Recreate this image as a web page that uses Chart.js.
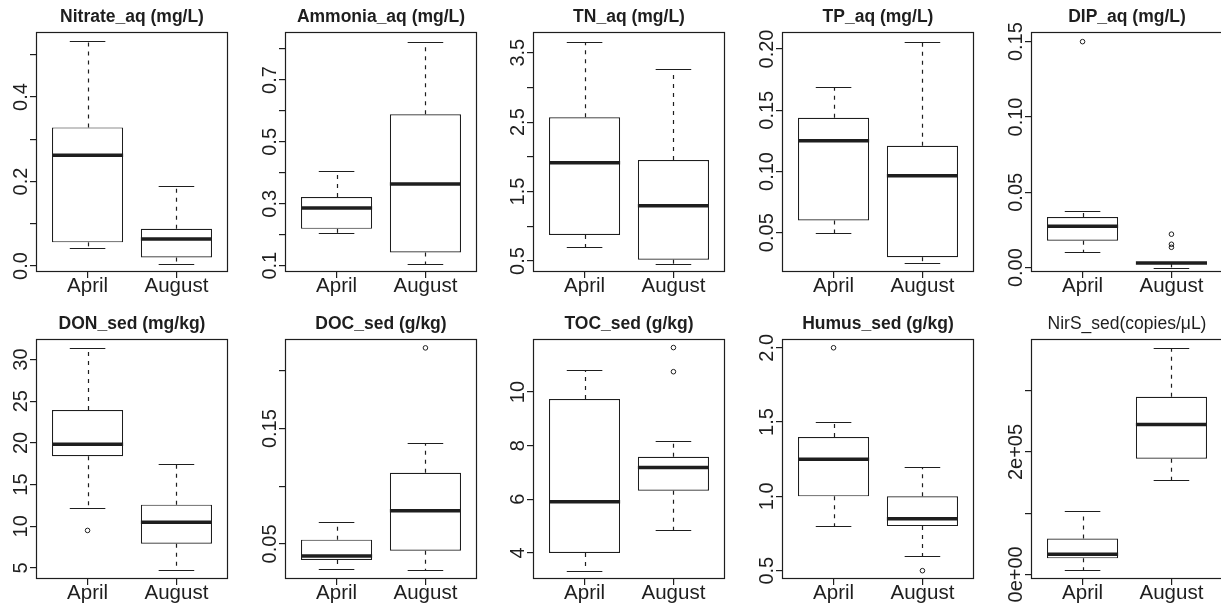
<!DOCTYPE html>
<html>
<head>
<meta charset="utf-8">
<script src="https://cdn.jsdelivr.net/npm/chart.js@4.4.0/dist/chart.umd.min.js"></script>
<style>
html, body { margin: 0; padding: 0; background: #fff; }
body { width: 1221px; height: 607px; position: relative; overflow: hidden; }
canvas { position: absolute; }
</style>
</head>
<body>
<script>
// groups on the x axis of every panel
const groups = ['April', 'August'];

const titles = ['Nitrate_aq (mg/L)', 'Ammonia_aq (mg/L)', 'TN_aq (mg/L)', 'TP_aq (mg/L)', 'DIP_aq (mg/L)',
  'DON_sed (mg/kg)', 'DOC_sed (g/kg)', 'TOC_sed (g/kg)', 'Humus_sed (g/kg)', 'NirS_sed(copies/\u03bcL)'];
const boldTitle = [true, true, true, true, true, true, true, true, true, false];

// box stats per panel: [April, August]
const lowWhisker = [[0.042, 0.005], [0.207, 0.107], [0.70, 0.46], [0.050, 0.025], [0.0106, 0.0],
  [12.2, 4.7], [0.0283, 0.0270], [3.34, 4.85], [0.80, 0.60], [6600, 154100]];
const q1 = [[0.056, 0.020], [0.219, 0.143], [0.874, 0.519], [0.060, 0.030], [0.0179, 0.0028],
  [18.4, 7.9], [0.0361, 0.0442], [4.0, 6.32], [1.0, 0.80], [26200, 189200]];
const median = [[0.262, 0.064], [0.286, 0.364], [1.916, 1.296], [0.125, 0.0965], [0.0275, 0.0030],
  [19.85, 10.49], [0.0396, 0.0787], [5.91, 7.19], [1.25, 0.85], [32800, 244900]];
const q3 = [[0.328, 0.088], [0.322, 0.589], [2.57, 1.955], [0.1439, 0.121], [0.0336, 0.0033],
  [23.94, 12.59], [0.0537, 0.1117], [9.74, 7.59], [1.40, 1.0], [58500, 290200]];
const highWhisker = [[0.532, 0.19], [0.406, 0.824], [3.659, 3.27], [0.169, 0.206], [0.0378, 0.0035],
  [31.44, 17.44], [0.0691, 0.1378], [10.81, 8.17], [1.5, 1.2], [102800, 370500]];
const outliers = [[[], []], [[], []], [[], []], [[], []], [[0.15], [0.0222, 0.0155, 0.0135]],
  [[9.5], []], [[], [0.220]], [[], [11.66, 10.76]], [[2.0], [0.5]], [[], []]];

// y axis ranges and ticks
const yMin = [-0.0142, 0.0796, 0.342, 0.0179, -0.0029, 3.675, 0.0196, 3.027, 0.444, -7540];
const yMax = [0.5538, 0.855, 3.798, 0.2139, 0.1564, 32.46, 0.2277, 11.98, 2.059, 384750];
const tickValues = [
  [0, 0.1, 0.2, 0.3, 0.4, 0.5],
  [0.1, 0.2, 0.3, 0.4, 0.5, 0.6, 0.7, 0.8],
  [0.5, 1, 1.5, 2, 2.5, 3, 3.5],
  [0.05, 0.1, 0.15, 0.2],
  [0, 0.05, 0.1, 0.15],
  [5, 10, 15, 20, 25, 30],
  [0.05, 0.1, 0.15, 0.2],
  [4, 6, 8, 10],
  [0.5, 1, 1.5, 2],
  [0, 100000, 200000, 300000]
];
const tickLabels = [
  ['0.0', '', '0.2', '', '0.4', ''],
  ['0.1', '', '0.3', '', '0.5', '', '0.7', ''],
  ['0.5', '', '1.5', '', '2.5', '', '3.5'],
  ['0.05', '0.10', '0.15', '0.20'],
  ['0.00', '0.05', '0.10', '0.15'],
  ['5', '10', '15', '20', '25', '30'],
  ['0.05', '', '0.15', ''],
  ['4', '6', '8', '10'],
  ['0.5', '1.0', '1.5', '2.0'],
  ['0e+00', '', '2e+05', '']
];

const FONT = "'Liberation Sans', Arial, Helvetica, sans-serif";
const ink = '#1e1e1e';
const lw = 1.2;

function seg(ctx, x1, y1, x2, y2) {
  ctx.beginPath();
  ctx.moveTo(x1, y1);
  ctx.lineTo(x2, y2);
  ctx.stroke();
}

// whiskers, medians, frame and rotated y labels (R style)
const boxParts = {
  id: 'boxparts',
  afterDatasetsDraw(chart, args, opts) {
    const p = opts.panel;
    const { ctx, chartArea: a } = chart;
    const x = chart.scales.x, y = chart.scales.y;
    ctx.save();
    ctx.strokeStyle = ink;
    groups.forEach((g, i) => {
      const c = i + 1;
      const cx = Math.round(x.getPixelForValue(c)) + 0.5;
      const yHi = Math.round(y.getPixelForValue(highWhisker[p][i])) + 0.5;
      const yLo = Math.round(y.getPixelForValue(lowWhisker[p][i])) + 0.5;
      ctx.lineWidth = lw;
      ctx.setLineDash([4, 5]);
      seg(ctx, cx, y.getPixelForValue(q3[p][i]), cx, yHi);
      seg(ctx, cx, y.getPixelForValue(q1[p][i]), cx, yLo);
      ctx.setLineDash([]);
      seg(ctx, x.getPixelForValue(c - 0.2), yHi, x.getPixelForValue(c + 0.2), yHi);
      seg(ctx, x.getPixelForValue(c - 0.2), yLo, x.getPixelForValue(c + 0.2), yLo);
      ctx.lineWidth = 3.5;
      const ym = y.getPixelForValue(median[p][i]);
      seg(ctx, x.getPixelForValue(c - 0.4), ym, x.getPixelForValue(c + 0.4), ym);
    });
    ctx.lineWidth = lw;
    ctx.strokeRect(a.left + 0.5, a.top + 0.5, a.right - a.left - 1, a.bottom - a.top - 1);

    ctx.fillStyle = ink;
    ctx.font = '20px ' + FONT;
    ctx.textAlign = 'center';
    ctx.textBaseline = 'alphabetic';
    tickValues[p].forEach((v, k) => {
      const lab = tickLabels[p][k];
      if (!lab) return;
      ctx.save();
      ctx.translate(a.left - 9.5, y.getPixelForValue(v));
      ctx.rotate(-Math.PI / 2);
      ctx.fillText(lab, 0, 0);
      ctx.restore();
    });
    ctx.restore();
  }
};

const colW = 248.7, rowH = 307;

titles.forEach((t, p) => {
  const col = p % 5, row = Math.floor(p / 5);
  const cv = document.createElement('canvas');
  cv.width = 248;
  cv.height = 307;
  cv.style.left = Math.round(-8 + colW * col) + 'px';
  cv.style.top = (rowH * row) + 'px';
  document.body.appendChild(cv);

  const outPts = [];
  groups.forEach((g, i) => outliers[p][i].forEach(v => outPts.push({ x: i + 1, y: v })));

  new Chart(cv.getContext('2d'), {
    type: 'bar',
    data: {
      datasets: [{
        data: groups.map((g, i) => ({ x: i + 1, y: [q1[p][i], q3[p][i]] })),
        backgroundColor: '#ffffff',
        borderColor: ink,
        borderWidth: lw,
        borderSkipped: false,
        barPercentage: 0.8,
        categoryPercentage: 1
      }, {
        type: 'scatter',
        data: outPts,
        pointRadius: 2.3,
        pointStyle: 'circle',
        borderColor: ink,
        borderWidth: 1,
        backgroundColor: 'rgba(0,0,0,0)'
      }]
    },
    options: {
      responsive: false,
      animation: false,
      events: [],
      layout: { padding: { left: 0, right: 12, top: 0, bottom: 0 } },
      plugins: {
        legend: { display: false },
        tooltip: { enabled: false },
        title: {
          display: true,
          fullSize: false,
          text: t,
          color: ink,
          font: { family: FONT, size: 17.5, weight: boldTitle[p] ? 'bold' : 'normal', lineHeight: 1.2 },
          padding: { top: 7, bottom: 4 }
        },
        boxparts: { panel: p }
      },
      scales: {
        x: {
          type: 'linear',
          min: 0.42,
          max: 2.58,
          offset: false,
          afterBuildTicks: ax => { ax.ticks = groups.map((g, i) => ({ value: i + 1 })); },
          afterFit: ax => { ax.height = 35; },
          grid: { drawOnChartArea: false, offset: false, tickLength: 6, color: ink, lineWidth: lw },
          border: { display: false },
          ticks: {
            callback: v => groups[v - 1],
            font: { family: FONT, size: 20.5, lineHeight: 1 },
            color: ink,
            padding: -2,
            maxRotation: 0,
            autoSkip: false
          }
        },
        y: {
          min: yMin[p],
          max: yMax[p],
          afterBuildTicks: ax => { ax.ticks = tickValues[p].map(v => ({ value: v })); },
          afterFit: ax => { ax.width = 44; },
          grid: { drawOnChartArea: false, tickLength: 6, color: ink, lineWidth: lw },
          border: { display: false },
          ticks: { display: false }
        }
      }
    },
    plugins: [boxParts]
  });
});
</script>
</body>
</html>
